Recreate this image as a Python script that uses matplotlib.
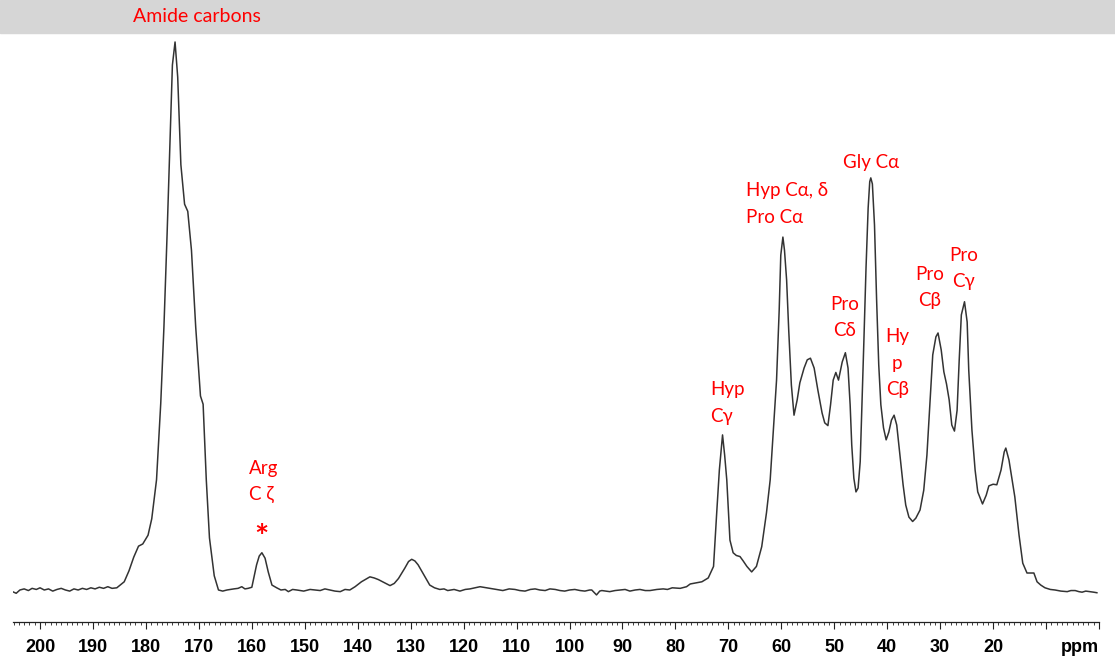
import matplotlib
matplotlib.use("Agg")
import matplotlib.pyplot as plt
from matplotlib.patches import Rectangle
from matplotlib.ticker import MultipleLocator, FixedLocator, FixedFormatter

# ======================================================================================================================
# 13C CP-MAS spectrum: chemical shift (ppm) and intensity (amide peak = 100)
ppm = [
    205.2, 204.5, 203.8, 203.0, 202.2, 201.5, 200.7, 200.0, 199.2, 198.4, 197.6, 196.8, 196.0, 195.2, 194.4,
    193.6, 192.8, 192.0, 191.2, 190.4, 189.6, 188.8, 188.0, 187.2, 186.4, 185.5,
    184.1, 183.2, 182.3, 181.4, 180.6, 179.6, 178.9, 178.0, 177.2, 176.6, 176.0, 175.4, 175.0, 174.5, 174.0,
    173.4, 172.7, 172.1, 171.4, 170.6, 169.7, 169.2, 168.6, 168.0, 167.1, 166.3, 165.5, 164.7,
    163.4, 162.6, 161.9, 161.3, 160.7, 160.0, 159.1, 158.6, 158.1, 157.5, 156.9, 156.2, 155.3, 154.5, 153.7,
    153.1, 152.3, 151.5, 150.2, 149.0, 148.1, 147.1, 146.2, 145.2, 144.3, 143.3, 142.4, 141.5,
    140.5, 139.3, 137.7, 136.9, 136.1, 134.9, 133.9, 133.1, 132.3, 131.1, 130.4, 129.8, 129.2, 128.6, 127.3,
    126.4, 125.5, 124.5, 123.7, 123.0, 121.8, 120.7, 119.7, 118.8, 116.9, 115.0, 113.8, 112.6, 111.4, 110.3,
    109.4, 108.4, 107.4, 106.5, 105.6, 104.6, 103.7, 102.7, 101.8, 100.9, 100.0, 99.0, 98.0, 97.1, 96.2,
    95.8, 94.9, 94.3, 93.9, 93.1, 92.4, 91.4, 90.5, 89.5, 88.6, 87.6, 86.7, 85.7, 84.8, 83.5, 82.3, 81.5,
    80.6, 79.1, 77.9, 77.2, 75.0, 73.8, 72.8,
    72.2, 71.7, 71.1, 70.7, 70.3, 69.7, 69.1, 68.5, 67.8, 67.2, 66.5, 65.6, 64.7, 63.7, 62.8, 62.1, 61.5,
    60.9, 60.4, 60.1, 59.7, 59.4, 59.0, 58.6, 58.1, 57.6, 57.0, 56.5, 55.7, 55.1, 54.5, 53.8, 53.1, 52.3,
    51.8, 51.2, 50.7, 50.2, 49.7, 49.2, 48.5, 47.9, 47.4, 47.0, 46.7, 46.3, 45.9, 45.5, 45.1, 44.8, 44.4,
    44.0, 43.6, 43.3, 43.1, 42.8, 42.4, 42.0, 41.6, 41.2, 40.7, 40.2, 39.7, 39.2, 38.7, 38.2, 37.6, 37.0,
    36.5, 35.9, 35.2, 34.6, 33.8, 33.1, 32.5, 31.9, 31.4, 30.8, 30.4, 29.8, 29.3, 28.8, 28.3, 27.8, 27.3,
    26.8, 26.4, 26.0, 25.4, 24.9, 24.6, 24.0, 23.4, 22.9, 22.0, 21.3, 20.8, 20.0, 19.3, 18.5, 17.9, 17.6,
    17.0, 16.4, 15.9, 15.1, 14.4, 13.6, 12.8, 12.3, 11.7, 11.0, 10.2, 9.2, 8.3, 7.2, 6.0, 5.3, 4.5, 3.8,
    3.2, 2.5, 1.7, 1.0, 0.4,
]
intensity = [
    -0.3, -0.6, 0.0, 0.2, -0.1, 0.3, 0.1, 0.4, 0.0, 0.2, -0.2, 0.1, 0.3, 0.0, -0.2,
    0.2, 0.0, 0.3, 0.1, 0.4, 0.2, 0.5, 0.3, 0.6, 0.3, 0.4,
    1.5, 3.5, 6.0, 8.0, 8.4, 10.0, 13.0, 20.1, 34.1, 48.0, 65.0, 83.2, 95.8, 100.0, 93.6,
    77.6, 70.4, 69.1, 62.0, 48.0, 35.4, 33.9, 20.1, 9.5, 2.6, 0.0, -0.2, 0.0,
    0.2, 0.3, 0.6, 0.2, 0.3, 0.5, 4.6, 6.2, 6.8, 5.8, 3.3, 0.9, 0.4, 0.0, 0.1,
    -0.3, 0.1, 0.0, -0.2, 0.1, 0.0, -0.1, 0.2, 0.0, -0.2, -0.3, 0.1, 0.0,
    0.6, 1.5, 2.4, 2.2, 1.9, 1.3, 0.8, 1.2, 2.1, 4.0, 5.2, 5.6, 5.3, 4.6, 2.4,
    0.9, 0.4, 0.1, 0.2, -0.1, 0.1, -0.2, 0.1, 0.2, 0.6, 0.3, 0.1, -0.1, 0.2, 0.1,
    -0.1, -0.2, 0.1, 0.2, 0.0, -0.1, 0.2, 0.1, -0.1, -0.2, 0.0, 0.1, -0.1, -0.2, 0.0,
    0.0, -0.9, -0.2, -0.1, -0.2, -0.3, -0.1, 0.0, 0.1, -0.2, 0.0, 0.1, -0.1, -0.1, 0.1, 0.2, 0.1,
    0.4, 0.3, 0.6, 1.1, 1.5, 2.2, 4.3,
    14.1, 21.9, 28.3, 24.6, 20.1, 9.1, 6.8, 6.3, 6.1, 5.3, 4.3, 3.3, 4.3, 7.9, 14.1, 20.1, 29.2,
    38.3, 51.1, 61.1, 64.4, 62.0, 56.6, 47.4, 37.4, 31.9, 34.7, 37.8, 40.5, 42.0, 42.3, 40.5, 36.5, 32.3,
    30.5, 30.0, 33.8, 38.3, 39.7, 38.3, 41.6, 43.3, 40.5, 33.8, 26.5, 20.4, 17.9, 18.6, 23.4, 32.8, 45.6,
    58.8, 69.7, 74.5, 75.2, 74.1, 66.6, 52.9, 41.1, 33.8, 29.6, 27.4, 28.8, 31.0, 31.9, 30.1, 24.6, 19.2,
    15.5, 13.3, 12.5, 13.1, 14.6, 18.2, 24.6, 34.7, 42.9, 46.2, 46.9, 43.8, 39.8, 37.6, 34.7, 30.1, 29.0,
    32.8, 42.0, 50.2, 52.6, 48.9, 40.1, 29.2, 21.9, 17.9, 15.7, 17.3, 19.0, 19.3, 19.2, 21.9, 25.2, 25.9,
    23.7, 20.1, 17.0, 10.0, 4.9, 3.1, 3.1, 3.1, 1.5, 0.9, 0.4, 0.1, 0.0, -0.2, -0.3, -0.1, -0.1, -0.3,
    -0.4, -0.2, -0.3, -0.4, -0.5,
]

# peak assignments: text, ppm, intensity, alignment
labels = ["Hyp C\u03b1, \u03b4\nPro C\u03b1", "Gly C\u03b1", "Pro\nC\u03b4", "Hy\np\nC\u03b2",
          "Pro\nC\u03b2", "Pro\nC\u03b3", "Hyp\nC\u03b3", "Arg\nC \u03b6"]
label_ppm = [66.7, 43.1, 48.0, 38.1, 31.9, 25.5, 73.5, 160.5]
label_int = [70.4, 78.1, 49.7, 41.4, 55.2, 58.7, 34.1, 19.8]
label_ha = ["left", "center", "center", "center", "center", "center", "left", "left"]

major_ticks = list(range(0, 201, 10))
tick_text = [str(v) if v >= 20 else "" for v in major_ticks]

# ======================================================================================================================
W, H = 1115, 664
fig = plt.figure(figsize=(W / 100, H / 100), dpi=100)
fig.patches.append(Rectangle((0, 1 - 33 / H), 1, 33 / H, transform=fig.transFigure,
                             color="#d6d6d6", zorder=0))

ax = fig.add_axes([12.5 / W, 1 - 622 / H, (1099 - 12.5) / W, (622 - 33) / H])
ax.plot(ppm, intensity, color="#333333", lw=1.1, solid_joinstyle="round")
ax.set_xlim(205.2, 0)
ax.set_ylim(-5.84, 101.64)

for s in ["top", "left", "right"]:
    ax.spines[s].set_visible(False)
ax.spines["bottom"].set_color("#222222")
ax.spines["bottom"].set_linewidth(0.9)
ax.set_yticks([])

ax.xaxis.set_major_locator(FixedLocator(major_ticks))
ax.xaxis.set_major_formatter(FixedFormatter(tick_text))
ax.xaxis.set_minor_locator(MultipleLocator(1))
ax.tick_params(axis="x", which="major", length=5, width=0.8, color="#222222", pad=7,
               labelsize=13)
ax.tick_params(axis="x", which="minor", length=2.2, width=0.6, color="#222222")
for lab in ax.get_xticklabels():
    lab.set_fontfamily("Liberation Sans")
    lab.set_fontweight("bold")

ax.text(3.6, -25 / 589, "ppm", transform=ax.get_xaxis_transform(), ha="center", va="center",
        fontsize=13, fontweight="bold", family="Liberation Sans")

red_font = ["Lato", "DejaVu Serif"]
fig.text(197 / W, 1 - 17 / H, "Amide carbons", color="red", ha="center", va="center",
         fontsize=14, family=red_font)
for txt, x, y, ha in zip(labels, label_ppm, label_int, label_ha):
    ax.text(x, y, txt, color="red", ha=ha, va="center", fontsize=13.5, family=red_font,
            linespacing=1.68, multialignment=ha)
ax.text(158.1, 9.4, "*", color="red", ha="center", va="center", fontsize=24,
        fontweight="bold", family=red_font)

fig.savefig("out.png", dpi=100)
